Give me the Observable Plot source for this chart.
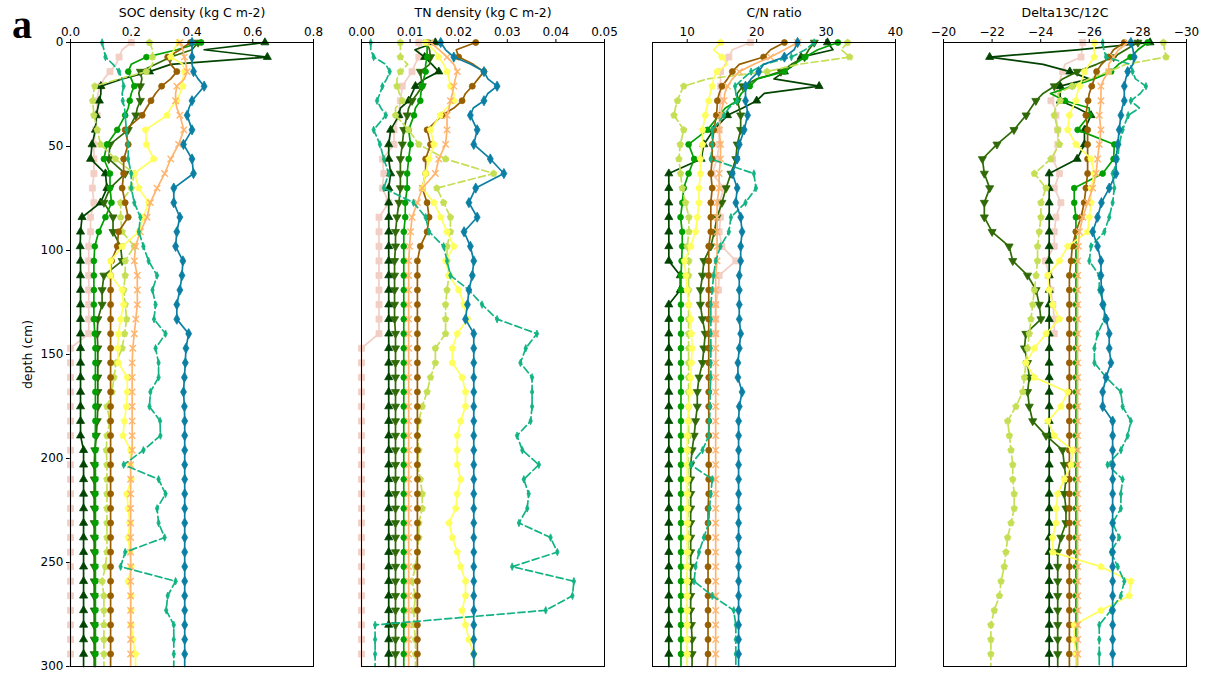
<!DOCTYPE html>
<html><head><meta charset="utf-8">
<script src="https://cdn.jsdelivr.net/npm/d3@7"></script>
<script src="https://cdn.jsdelivr.net/npm/@observablehq/plot@0.6"></script>
<style>
body{margin:0;background:#fff;}
#wrap{position:relative;width:1208px;height:674px;overflow:hidden;background:#fff;font-family:"DejaVu Sans",sans-serif;}
#wrap svg{position:absolute;top:0;}
#tag{position:absolute;left:12px;top:5px;font:bold 40px "Liberation Serif","DejaVu Serif",serif;line-height:40px;color:#000;}
</style></head><body>
<div id="wrap"><div id="tag">a</div></div>
<script>
// ---- depth grid (cm) ----
const depth = [0,3.5,7,10.5,14,17.5,21,24.5,28,31.5,35,
  42,49,56,63,70,77,84,91,98,105,112,119,126,133,
  140,147,154,161,168,175,182,189,196,203,210,217,224,231,238,245,252,259,266,273,280,287,294,
  300];

// ---- axis ticks ----
const depthTicks = [0,50,100,150,200,250,300];
const socTicks = [0,0.2,0.4,0.6,0.8];
const tnTicks = [0,0.01,0.02,0.03,0.04,0.05];
const cnTicks = [10,20,30,40];
const d13cTicks = [-20,-22,-24,-26,-28,-30];
const panelTitles = ["SOC density (kg C m-2)","TN density (kg C m-2)","C/N ratio","Delta13C/12C"];

// ---- SOC density ----
const soc1 = [0.64,0.44,0.648,0.33,0.26,0.17,0.10,0.10,0.095,0.09,0.085,
  0.082,0.071,0.066,0.115,0.12,0.099,0.038,0.033,0.032,0.033,0.033,0.033,0.033,0.033,
  0.033,0.033,0.033,0.033,0.033,0.033,0.033,0.033,0.043,0.043,0.043,0.043,0.043,0.043,0.043,0.043,0.043,0.043,0.043,0.043,0.043,0.043,0.043,
  0.043];
const soc2 = [0.42,0.40,0.33,0.28,0.23,0.235,0.23,0.225,0.23,0.22,0.215,
  0.19,0.13,0.126,0.18,0.13,0.11,0.14,0.14,0.165,0.17,0.11,0.104,0.104,0.09,
  0.088,0.09,0.09,0.09,0.09,0.09,0.088,0.085,0.08,0.078,0.078,0.078,0.078,0.078,0.078,0.078,0.078,0.078,0.078,0.078,0.078,0.078,0.078,
  0.078];
const soc3 = [0.43,0.35,0.25,0.20,0.19,0.20,0.21,0.20,0.195,0.19,0.18,
  0.154,0.12,0.11,0.13,0.13,0.135,0.115,0.093,0.08,0.077,0.077,0.077,0.077,0.077,
  0.08,0.082,0.082,0.082,0.082,0.082,0.082,0.082,0.082,0.082,0.082,0.082,0.082,0.082,0.082,0.082,0.082,0.082,0.082,0.082,0.082,0.082,0.082,
  0.082];
const soc4 = [0.26,0.27,0.27,0.27,0.25,0.16,0.08,0.075,0.073,0.075,0.077,
  0.088,0.099,0.148,0.21,0.20,0.165,0.165,0.17,0.21,0.18,0.18,0.175,0.18,0.185,
  0.178,0.17,0.15,0.143,0.137,0.12,0.13,0.12,0.118,0.12,0.12,0.12,0.12,0.12,0.12,0.12,0.115,0.104,0.11,0.11,0.11,0.11,0.11,
  0.11];
const soc5 = [0.395,0.36,0.32,0.33,0.35,0.33,0.30,0.28,0.265,0.25,0.236,
  0.18,0.19,0.175,0.175,0.17,0.18,0.19,0.158,0.154,0.135,0.132,0.132,0.132,0.132,
  0.132,0.132,0.132,0.132,0.132,0.132,0.132,0.132,0.132,0.132,0.132,0.132,0.132,0.132,0.132,0.132,0.132,0.132,0.132,0.132,0.132,0.132,0.132,
  0.132];
const soc6 = [0.356,0.34,0.33,0.37,0.375,0.37,0.37,0.36,0.35,0.33,0.318,
  0.247,0.25,0.274,0.21,0.225,0.257,0.24,0.225,0.17,0.132,0.132,0.17,0.175,0.165,
  0.158,0.155,0.158,0.187,0.187,0.184,0.177,0.173,0.198,0.196,0.2,0.185,0.19,0.195,0.19,0.195,0.2,0.19,0.2,0.2,0.2,0.205,0.214,
  0.214];
const soc7 = [0.36,0.37,0.375,0.38,0.384,0.375,0.35,0.346,0.346,0.35,0.36,
  0.373,0.356,0.33,0.31,0.285,0.263,0.252,0.23,0.214,0.21,0.22,0.22,0.22,0.215,
  0.21,0.205,0.203,0.203,0.203,0.203,0.203,0.203,0.203,0.198,0.198,0.198,0.198,0.198,0.198,0.198,0.198,0.198,0.198,0.198,0.198,0.198,0.198,
  0.198];
const soc8 = [0.104,0.11,0.115,0.14,0.16,0.17,0.175,0.17,0.172,0.178,0.18,
  0.184,0.19,0.19,0.2,0.2,0.21,0.23,0.225,0.24,0.257,0.285,0.27,0.28,0.275,
  0.313,0.28,0.29,0.29,0.263,0.26,0.295,0.296,0.24,0.175,0.29,0.313,0.285,0.29,0.31,0.18,0.165,0.346,0.32,0.315,0.34,0.34,0.34,
  0.34];
const soc9 = [0.40,0.40,0.40,0.40,0.405,0.42,0.44,0.42,0.40,0.39,0.384,
  0.40,0.372,0.40,0.405,0.34,0.34,0.36,0.35,0.346,0.37,0.367,0.36,0.35,0.35,
  0.389,0.38,0.378,0.375,0.372,0.375,0.376,0.376,0.376,0.376,0.376,0.376,0.376,0.376,0.376,0.376,0.376,0.376,0.376,0.376,0.376,0.376,0.376,
  0.376];
const soc10 = [0.20,0.17,0.16,0.15,0.13,0.11,0.10,0.09,0.088,0.088,0.088,
  0.083,0.077,0.077,0.077,0.072,0.077,0.066,0.066,0.06,0.06,0.06,0.06,0.06,0.06,
  0.06,0,0,0,0,0,0,0,0,0,0,0,0,0,0,0,0,0,0,0,0,0,0,
  0];

// ---- TN density ----
const tn1 = [0.0152,0.011,0.013,0.0145,0.0159,0.013,0.0111,0.0104,0.0097,0.008,0.0077,
  0.006,0.0056,0.0056,0.006,0.0056,0.0056,0.0056,0.0056,0.0056,0.0056,0.0056,0.0056,0.0056,0.0056,
  0.0056,0.0056,0.0056,0.0056,0.0056,0.0056,0.0056,0.0056,0.0056,0.0056,0.0056,0.0056,0.0056,0.0056,0.0056,0.0056,0.0056,0.0056,0.0056,0.0056,0.0056,0.0056,0.0056,
  0.0056];
const tn2 = [0.0135,0.014,0.0142,0.014,0.0121,0.0123,0.0125,0.0115,0.0104,0.0097,0.0094,
  0.0087,0.0084,0.008,0.008,0.008,0.0077,0.0073,0.007,0.007,0.0068,0.0068,0.0068,0.0068,0.0068,
  0.007,0.007,0.007,0.007,0.007,0.007,0.007,0.007,0.007,0.007,0.007,0.007,0.007,0.007,0.007,0.007,0.007,0.007,0.007,0.007,0.007,0.007,0.007,
  0.007];
const tn3 = [0.0135,0.0135,0.0135,0.0132,0.0132,0.0128,0.0125,0.0122,0.0121,0.0111,0.0108,
  0.0097,0.0101,0.0097,0.0094,0.0094,0.009,0.009,0.0087,0.0087,0.0087,0.0087,0.0087,0.0087,0.0087,
  0.0087,0.0087,0.0087,0.0087,0.0087,0.0087,0.0087,0.0087,0.0087,0.0087,0.0087,0.0087,0.0087,0.0087,0.0087,0.0087,0.0087,0.0087,0.0087,0.0087,0.0087,0.0087,0.0087,
  0.0087];
const tn4 = [0.008,0.008,0.008,0.0095,0.008,0.0073,0.0073,0.0078,0.0084,0.007,0.007,
  0.0097,0.0118,0.0173,0.0272,0.0155,0.0169,0.0183,0.0183,0.0176,0.0176,0.018,0.0176,0.0173,0.0173,
  0.0173,0.0152,0.0152,0.0142,0.0135,0.0125,0.0118,0.0115,0.0118,0.0115,0.0121,0.0125,0.0125,0.0118,0.0118,0.0115,0.0111,0.0104,0.0111,0.0108,0.0108,0.0111,0.0111,
  0.0111];
const tn5 = [0.0235,0.0195,0.02,0.023,0.0252,0.024,0.0228,0.0214,0.0207,0.019,0.0166,
  0.0135,0.0142,0.0132,0.0132,0.0125,0.0135,0.0139,0.0135,0.0121,0.0115,0.0115,0.0115,0.0115,0.0115,
  0.0115,0.0115,0.0115,0.0115,0.0115,0.0115,0.0115,0.0115,0.0115,0.0115,0.0115,0.0115,0.0115,0.0115,0.0115,0.0115,0.0115,0.0115,0.0115,0.0115,0.0115,0.0115,0.0115,
  0.0115];
const tn6 = [0.0132,0.0149,0.0159,0.0169,0.0176,0.018,0.0183,0.019,0.019,0.0175,0.0162,
  0.0142,0.0149,0.0139,0.0132,0.0125,0.0149,0.0163,0.0176,0.019,0.0173,0.018,0.02,0.0211,0.0218,
  0.0197,0.0187,0.0187,0.0207,0.0214,0.0214,0.0204,0.0197,0.0197,0.0197,0.0204,0.0197,0.0194,0.018,0.0187,0.0197,0.0204,0.0214,0.0214,0.0207,0.0214,0.0221,0.0231,
  0.0235];
const tn7 = [0.0142,0.016,0.0176,0.019,0.0197,0.0193,0.019,0.0187,0.0183,0.018,0.0176,
  0.0176,0.0173,0.0159,0.0152,0.0125,0.0115,0.0104,0.0101,0.0099,0.0097,0.0097,0.0097,0.0097,0.0097,
  0.0097,0.0097,0.0097,0.0097,0.0097,0.0097,0.0097,0.0097,0.0097,0.0097,0.0097,0.0097,0.0097,0.0097,0.0097,0.0097,0.0097,0.0097,0.0097,0.0097,0.0097,0.0097,0.0097,
  0.0097];
const tn8 = [0.0019,0.0019,0.0025,0.005,0.0058,0.0052,0.0043,0.0038,0.0032,0.004,0.005,
  0.0025,0.0038,0.0046,0.0056,0.0046,0.0107,0.0132,0.0139,0.0169,0.0176,0.0183,0.0221,0.0248,0.0279,
  0.0361,0.0338,0.0327,0.0351,0.0351,0.0351,0.0348,0.032,0.0331,0.0365,0.0334,0.0344,0.0341,0.0324,0.0389,0.0403,0.031,0.0437,0.0434,0.0379,0.0028,0.0028,0.0028,
  0.0028];
const tn9 = [0.0163,0.0173,0.019,0.0225,0.0252,0.026,0.0279,0.026,0.0252,0.023,0.0224,
  0.0238,0.0231,0.0265,0.0293,0.0235,0.0221,0.0238,0.0211,0.0224,0.0231,0.0228,0.0221,0.0218,0.0214,
  0.0231,0.0231,0.0231,0.0231,0.0231,0.0231,0.0231,0.0231,0.0231,0.0231,0.0231,0.0231,0.0231,0.0231,0.0231,0.0231,0.0231,0.0231,0.0231,0.0231,0.0231,0.0231,0.0231,
  0.0231];
const tn10 = [0.0118,0.0118,0.0118,0.011,0.0104,0.0094,0.0084,0.0082,0.008,0.0078,0.0077,
  0.0067,0.0067,0.0043,0.0046,0.0043,0.0056,0.0036,0.0036,0.0036,0.0036,0.0036,0.0036,0.0036,0.0036,
  0.0036,0,0,0,0,0,0,0,0,0,0,0,0,0,0,0,0,0,0,0,0,0,0,
  0];

// ---- C/N ratio ----
const cn1 = [30.2,31,26.4,25.5,24,22.5,29,21.1,20,18,15.8,
  13.8,12.4,12,7.35,7.35,7.35,7.35,7.35,7.35,7.35,9.0,9.0,7.35,7.35,
  7.35,7.35,7.35,7.35,7.35,7.35,7.35,7.35,7.35,7.35,7.35,7.35,7.35,7.35,7.35,7.35,7.35,7.35,7.35,7.35,7.35,7.35,7.35,
  7.35];
const cn2 = [28.3,27.5,26.9,25,23.5,20,18,17.2,17.2,17.5,17.7,
  17.7,17.2,17,16.3,15.6,15,14.3,13.9,13.4,12.4,12.2,11.9,11.9,12.2,
  12.6,12.4,12.2,11.7,11.45,11.45,11.2,11,10.7,10.5,10.5,10.5,10.5,10.5,10.5,10.5,10.5,10.5,10.5,10.5,10.6,10.7,10.7,
  10.7];
const cn3 = [31.7,28.8,27,25.4,24,20.1,19,17.8,17.2,15.5,14.6,
  12.9,10.2,11,10.2,9.5,9.3,9.04,9.28,9.28,9.2,9.1,9.1,9.1,9.1,
  9.1,9.1,9.1,9.1,9.1,9.1,9.1,9.1,9.1,9.1,9.1,9.1,9.1,9.1,9.1,9.1,9.1,9.1,9.1,9.1,9.1,9.1,9.1,
  9.1];
const cn4 = [33.1,32.2,33.4,26,21.5,12.9,9.5,9,8.6,8.3,8.1,
  9.5,9,8.8,9.04,9.28,9.76,10.24,10.24,10,10.24,10.2,10.2,10.2,10.2,
  10.2,10.2,10.2,10.2,10.2,10.2,10.2,10.2,10.1,10.1,10.1,10.1,10.1,10.1,10.1,10.1,10,10,10,10,10,10,10,
  10];
const cn5 = [24,22,21,17.5,16.5,15.8,15,14.6,14.34,14.3,14.2,
  13.85,13.6,13.6,13.4,13.6,13.4,13.4,13.4,13.1,13.1,13.1,13.1,13.1,13.1,
  13.1,13.1,13.1,13.1,13.1,13.1,13.1,13.1,13.1,13.1,13.1,13.1,13,13,13,13,13,13,13,13,13,13,13,
  12.9];
const cn6 = [14.8,13.8,15,15.8,14.3,13.8,13.6,13.3,13.1,12.8,12.6,
  12.2,12.2,11.9,11.9,11.7,11.7,11.45,11.2,10.5,9.6,9.8,10,10.2,10.5,
  10.6,10.7,10.6,10.5,10.4,10.24,10.1,10,10,10,10,10,10,10,10,10,10,10,10,10,10,10,10,
  10];
const cn7 = [25.9,24,22,19.6,17.5,16.5,15.8,15.4,15.3,15,14.8,
  14.6,14.8,14.8,14.6,14.6,14.3,14.3,14.3,14.3,14.3,14.1,14.1,14.1,14.1,
  14.1,14.1,14.1,14.1,14.1,14.1,14.1,14.1,14.1,14.1,14.1,14.1,14.1,14.1,14.1,14.1,14.1,14.1,14.1,14.1,14.1,14.1,14.1,
  14.1];
const cn8 = [28.3,27,25,21,19.2,18,16.9,17,17.2,16,15.3,
  13.6,13.6,13.4,19.6,19.9,18.4,16.3,16,14.8,14.1,13.8,13.6,13.4,13.4,
  13.4,13.4,13.4,13.4,13.3,13.3,13.2,13.1,12.2,10.5,13.6,13.4,13.2,13.1,12.4,11.7,11.2,11,13.6,16.7,17,17,17,
  17];
const cn9 = [25.9,25.4,24,21,20.3,19.2,18.4,18.4,18.4,18.6,18.7,
  18.2,17.5,17.2,16.5,17.2,17,17.7,17.9,17.7,17.7,17.5,17.5,17.5,17.5,
  17.7,17.5,17.3,17.3,17.9,17.5,17.4,17.4,17.4,17.4,17.4,17.4,17.4,17.4,17.4,17.4,17.4,17.4,17.4,17.4,17.4,17.4,17.4,
  17.4];
const cn10 = [19.1,16.5,16,15.5,14.8,14.8,14.8,14.8,14.8,14.7,14.6,
  14.6,14.6,14.3,13.6,15.3,14.6,14.8,14.6,15,17,14.6,14.5,14.1,14.1,
  14.1,null,null,null,null,null,null,null,null,null,null,null,null,null,null,null,null,null,null,null,null,null,null,
  null];

// ---- Delta13C/12C ----
const dc1 = [-28.5,-25.5,-21.9,-24.1,-25.2,-26,-24.8,-24.8,-24.8,-25.5,-26.07,
  -25.8,-25.8,-25.5,-24.35,-24.35,-24.35,-24.35,-24.35,-24.35,-24.35,-24.35,-24.35,-24.35,-24.35,
  -24.35,-24.35,-24.35,-24.35,-24.35,-24.35,-24.35,-24.35,-24.35,-24.35,-24.35,-24.35,-24.35,-24.35,-24.35,-24.35,-24.35,-24.35,-24.35,-24.35,-24.35,-24.35,-24.35,
  -24.35];
const dc2 = [-28,-27.5,-27,-26.3,-25.5,-24.9,-24.56,-24.1,-23.8,-23.6,-23.4,
  -22.9,-22.2,-21.6,-21.68,-21.9,-21.68,-21.68,-22.0,-22.7,-22.85,-23.46,-23.81,-23.94,-24.01,
  -23.39,-23.33,-23.46,-23.53,-23.46,-23.53,-23.67,-24.22,-24.9,-24.97,-25.04,-24.97,-25.04,-25.04,-24.83,-24.7,-24.7,-24.7,-24.7,-24.7,-24.7,-24.7,-24.7,
  -24.7];
const dc3 = [-28.4,-28,-27.7,-27.2,-26.9,-26.2,-25.3,-24.4,-25,-26,-26,
  -25.52,-27.03,-27,-26.55,-25.38,-25.38,-25.45,-25.45,-25.45,-25.45,-25.45,-25.45,-25.45,-25.45,
  -25.45,-25.45,-25.45,-25.45,-25.45,-25.45,-25.45,-25.45,-25.45,-25.45,-25.45,-25.45,-25.45,-25.45,-25.45,-25.45,-25.45,-25.45,-25.45,-25.45,-25.45,-25.45,-25.45,
  -25.45];
const dc4 = [-29.05,-29.1,-29.16,-27.5,-26.8,-26,-25.3,-24.7,-24.8,-24.6,-24.56,
  -24.7,-24.77,-24.42,-23.74,-24.22,-24.01,-24.01,-23.94,-23.87,-23.87,-23.81,-23.74,-23.67,-23.6,
  -23.53,-23.46,-23.39,-23.33,-23.26,-22.98,-22.64,-22.71,-22.78,-22.85,-22.85,-22.91,-22.91,-22.78,-22.64,-22.57,-22.5,-22.37,-22.3,-22.09,-21.95,-21.95,-21.95,
  -21.95];
const dc5 = [-27.44,-27,-26.8,-26.5,-26.3,-26.2,-26.1,-26,-25.95,-25.9,-25.86,
  -25.93,-25.93,-25.93,-25.93,-25.86,-25.79,-25.66,-25.45,-25.3,-25.25,-25.18,-25.18,-25.18,-25.18,
  -25.18,-25.18,-25.18,-25.18,-25.18,-25.18,-25.18,-25.18,-25.18,-25.18,-25.18,-25.18,-25.18,-25.18,-25.18,-25.18,-25.18,-25.18,-25.18,-25.18,-25.18,-25.18,-25.18,
  -25.18];
const dc6 = [-26.2,-26.2,-26.2,-26,-25.8,-25.7,-25.6,-25.5,-25.45,-25.3,-25.18,
  -25.11,-25.45,-26.07,-26.21,-26.07,-26.07,-26,-25.93,-25.11,-24.77,-24.29,-24.35,-24.49,-24.77,
  -24.22,-23.74,-23.39,-23.74,-25.11,-24.83,-24.29,-24.56,-25.31,-25.25,-24.97,-24.7,-24.63,-24.63,-24.49,-24.49,-26.48,-27.71,-27.64,-26.48,-25.38,-25.38,-25.45,
  -25.45];
const dc7 = [-27.58,-27.2,-27,-26.8,-26.8,-26.6,-26.48,-26.48,-26.48,-26.45,-26.41,
  -26.48,-26.41,-26.34,-26.28,-26.14,-25.93,-25.73,-25.59,-25.55,-25.52,-25.52,-25.52,-25.52,-25.52,
  -25.52,-25.52,-25.52,-25.52,-25.52,-25.52,-25.52,-25.52,-25.52,-25.52,-25.52,-25.52,-25.52,-25.52,-25.52,-25.52,-25.52,-25.52,-25.52,-25.52,-25.52,-25.52,-25.52,
  -25.52];
const dc8 = [-26.55,-26.6,-26.69,-27.7,-27.78,-27.9,-28.33,-28.1,-27.71,-28.06,-27.6,
  -27.37,-27.23,-27.17,-26.96,-27.03,-26.96,-26.82,-26.62,-26.07,-26,-26.41,-26.41,-26.62,-26.62,
  -26.34,-26.21,-26.21,-26.69,-27.3,-27.37,-27.71,-27.58,-27.3,-26.75,-27.37,-27.3,-27.3,-26.96,-27.23,-26.89,-27.17,-27.44,-27.3,-26.89,-26.41,-26.41,-26.41,
  -26.41];
const dc9 = [-27.71,-27.8,-27.85,-27.8,-27.58,-27.5,-27.44,-27.44,-27.44,-27.35,-27.3,
  -27.23,-27.17,-27.1,-27.1,-26.82,-26.5,-26.34,-26.14,-26.34,-26.48,-26.48,-26.5,-26.55,-26.7,
  -26.82,-26.82,-26.89,-26.69,-26.55,-26.55,-26.96,-26.96,-26.96,-26.96,-26.96,-26.96,-26.96,-26.96,-26.96,-26.96,-26.96,-26.96,-26.96,-26.96,-26.96,-26.96,-26.96,
  -26.96];
const dc10 = [-25.73,-25.7,-25.66,-25,-24.9,-24.8,-24.77,-24.6,-24.42,-24.6,-24.63,
  -24.7,-24.7,-24.49,-24.77,-24.56,-24.83,-24.63,-24.56,-24.56,-24.2,-24.35,-24.42,-24.5,-24.56,
  -24.56,null,null,null,null,null,null,null,null,null,null,null,null,null,null,null,null,null,null,null,null,null,null,
  null];

// ---- styles (separate from data) ----
const seriesColors = ["#004400","#2f6a06","#00a000","#c5df55","#975f00","#ffff5c","#ffb46e","#12b383","#0a7fa3","#f2cec4"];
const seriesDash = [null,null,null,"7,3.5",null,null,null,"7,3.5",null,null];

const triDown = {draw(ctx, size) {
  const y = -Math.sqrt(size / (Math.sqrt(3) * 3)), s = Math.sqrt(3);
  ctx.moveTo(0, -2 * y); ctx.lineTo(-s * y, y); ctx.lineTo(s * y, y); ctx.closePath();
}};
const thinDiamond = {draw(ctx, size) {
  const r = Math.sqrt(size) * 0.62, w = r * 0.45;
  ctx.moveTo(0, -r); ctx.lineTo(w, 0); ctx.lineTo(0, r); ctx.lineTo(-w, 0); ctx.closePath();
}};
const pentagon = {draw(ctx, size) {
  const r = Math.sqrt(size / 2.3776);
  for (let k = 0; k < 5; k++) {
    const a = -Math.PI / 2 + k * 2 * Math.PI / 5;
    if (k === 0) ctx.moveTo(r * Math.cos(a), r * Math.sin(a)); else ctx.lineTo(r * Math.cos(a), r * Math.sin(a));
  }
  ctx.closePath();
}};
const seriesSymbols = ["triangle", triDown, "circle", pentagon, "circle", pentagon, "times", thinDiamond, "diamond", "square"];
const seriesR = [3, 3, 2.9, 3, 3, 3, 3, 3.4, 3.1, 3.4];
const drawOrder = [9, 0, 1, 2, 3, 4, 5, 6, 7, 8];

const panelSeries = [
  [soc1,soc2,soc3,soc4,soc5,soc6,soc7,soc8,soc9,soc10],
  [tn1,tn2,tn3,tn4,tn5,tn6,tn7,tn8,tn9,tn10],
  [cn1,cn2,cn3,cn4,cn5,cn6,cn7,cn8,cn9,cn10],
  [dc1,dc2,dc3,dc4,dc5,dc6,dc7,dc8,dc9,dc10]
];
const panelDomains = [[0, 0.8], [0, 0.05], [5, 40], [-20, -30]];
const panelTicks = [socTicks, tnTicks, cnTicks, d13cTicks];
const panelFormats = [d3.format(".1f"), d3.format(".2f"), d3.format("d"), d3.format("d")];
const frameLefts = [70, 361, 652, 943];
const frameW = 243;

const wrap = document.getElementById("wrap");
panelSeries.forEach((series, pi) => {
  const ml = pi === 0 ? 70 : 12, mr = 16;
  const marks = [];
  drawOrder.forEach(si => {
    const vals = series[si];
    if (vals.length !== depth.length) console.error("length mismatch", pi, si, vals.length);
    const rows = depth.map((d, i) => ({d, v: vals[i]}));
    marks.push(Plot.line(rows, {x: "v", y: "d", stroke: seriesColors[si], strokeWidth: 1.7,
      strokeDasharray: seriesDash[si] || undefined}));
    const mrows = rows.filter(r => r.v != null && r.d % 7 === 0 && r.d < 300);
    if (seriesSymbols[si] === "times") {
      marks.push(Plot.dot(mrows, {x: "v", y: "d", symbol: "times", r: seriesR[si], stroke: seriesColors[si], fill: "none", strokeWidth: 1.4}));
    } else {
      marks.push(Plot.dot(mrows, {x: "v", y: "d", symbol: seriesSymbols[si], r: seriesR[si], fill: seriesColors[si], stroke: seriesColors[si], strokeWidth: 0.8}));
    }
  });
  marks.push(Plot.frame({stroke: "#000", strokeWidth: 1}));
  marks.push(Plot.text([panelTitles[pi]], {frameAnchor: "top", dy: -30, lineAnchor: "middle", fontSize: 12.5, fill: "#000"}));
  if (pi === 0) {
    marks.push(Plot.text(["depth (cm)"], {frameAnchor: "left", dx: -43, rotate: -90, textAnchor: "middle", lineAnchor: "middle", fontSize: 12.5, fill: "#000"}));
  }
  const chart = Plot.plot({
    width: ml + frameW + mr,
    height: 674,
    marginTop: 42,
    marginBottom: 8,
    marginLeft: ml,
    marginRight: mr,
    style: {fontFamily: "DejaVu Sans", fontSize: "12px", background: "transparent", overflow: "visible", color: "#000"},
    x: {domain: panelDomains[pi], axis: "top", ticks: panelTicks[pi], tickFormat: panelFormats[pi], tickSize: 4, tickPadding: 3, label: null},
    y: pi === 0
      ? {domain: [0, 300], reverse: true, ticks: depthTicks, tickSize: 4, tickPadding: 3, label: null}
      : {domain: [0, 300], reverse: true, axis: null},
    marks
  });
  chart.style.left = (frameLefts[pi] - ml) + "px";
  wrap.appendChild(chart);
});
</script>
</body></html>
